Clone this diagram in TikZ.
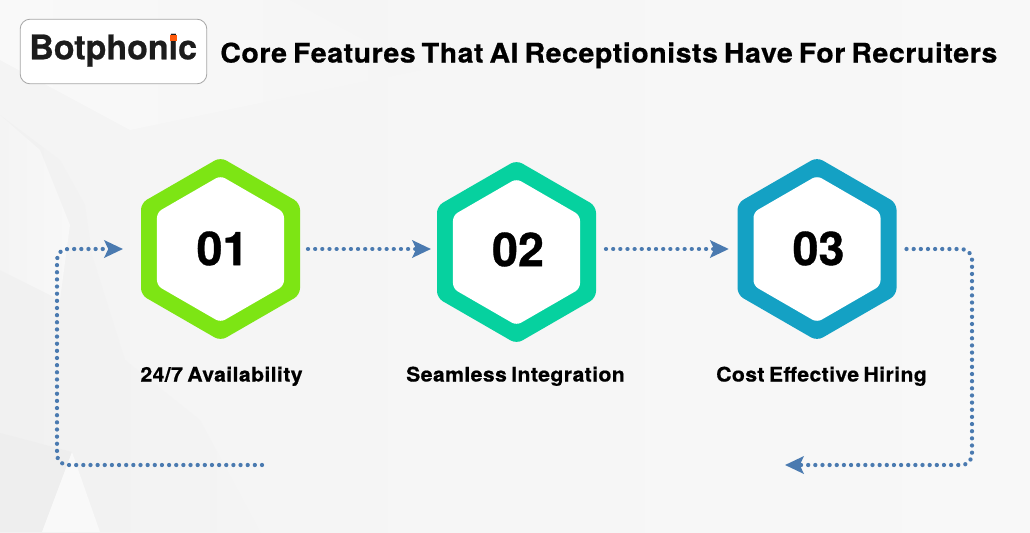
\documentclass[tikz,border=0pt]{standalone}
\usepackage{fontspec}
\setmainfont{TeX Gyre Heros}
\newfontfamily\headfont[LetterSpace=2,WordSpace=0.7,FakeStretch=1.06,BoldFeatures={FakeBold=0.6}]{TeX Gyre Heros}
\newfontfamily\heavyfont[BoldFeatures={FakeBold=0.7}]{TeX Gyre Heros}
\usetikzlibrary{shapes.geometric,arrows.meta}
\definecolor{flowblue}{HTML}{4A7AB0}
\definecolor{hexgreen}{HTML}{7DE514}
\definecolor{hexteal}{HTML}{06D19F}
\definecolor{hexblue}{HTML}{14A1C4}
\definecolor{logoink}{HTML}{1C1C1C}
\definecolor{logodot}{HTML}{FF5A0A}
\definecolor{gEC}{HTML}{EEEEEE}
\definecolor{gF0}{HTML}{F1F1F1}
\definecolor{gF4}{HTML}{F4F4F4}
\definecolor{gF5}{HTML}{F5F5F5}
\definecolor{gF8}{HTML}{F8F8F8}
\definecolor{gFA}{HTML}{F9F9F9}
\tikzset{
  hexouter/.style={regular polygon,regular polygon sides=6,shape border rotate=30,minimum size=137.7pt,inner sep=0pt,outer sep=0pt,rounded corners=5pt,fill=#1},
  hexinner/.style={regular polygon,regular polygon sides=6,shape border rotate=30,minimum size=110pt,inner sep=0pt,outer sep=0pt,rounded corners=4pt,fill=white},
  hexnum/.style={inner sep=0pt,text=black,font=\fontsize{35}{35}\heavyfont\bfseries},
  flow/.style={draw=flowblue,line width=3.2pt,line cap=round,dash pattern=on 0.01pt off 5.35pt,rounded corners=8pt},
  flowtip/.style={-{Stealth[length=14pt,width=13pt,inset=3pt,color=flowblue]}},
  caption/.style={anchor=base,text=black,font=\fontsize{15}{16}\headfont\bfseries},
}
\begin{document}
\begin{tikzpicture}[x=0.75pt,y=-0.75pt]
\useasboundingbox (0,0) rectangle (1030,532);
\shade[left color=gF4,right color=gF8] (0,0) rectangle (1030,532);
% soft background facets
\shade[left color=gFA,right color=gF5] (0,0) -- (290,0) -- (420,70) -- (130,130) -- (0,60) -- cycle;
\shade[left color=gF0,right color=gF4] (0,115) -- (60,160) -- (85,205) -- (92,255) -- (125,360) -- (200,420) -- (260,532) -- (0,532) -- cycle;
\shade[left color=gF4,right color=gF8] (0,115) -- (40,150) -- (70,225) -- (60,300) -- (0,270) -- cycle;
\fill[gEC] (0,433) -- (72,452) -- (42,532) -- (0,532) -- cycle;
\fill[gFA] (72,452) -- (100,532) -- (42,532) -- cycle;
% logo
\node[draw=black!35,fill=white,rounded corners=7.5pt,minimum width=140pt,minimum height=48.5pt,inner sep=0pt,line width=.6pt] (logo) at (113.5,51.5) {};
\node[anchor=base west,inner sep=0pt,text=logoink,font=\fontsize{25.5}{26}\heavyfont\bfseries] (brand) at (29,59.3) {Botphonic};
\fill[logodot] (169.5,34.5) rectangle (176.5,40.5);
% title
\node[anchor=base west,inner sep=0pt,text=black,font=\fontsize{20.2}{22}\headfont\bfseries] (title) at (220,62.5) {Core Features That AI Receptionists Have For Recruiters};
% hexagons
\node[hexouter=hexgreen] (h1) at (220.5,249) {};
\node[hexinner] (n1) at (h1) {};
\node[hexnum] (t1) at (222.5,248.5) {01};
\node[hexouter=hexteal] (h2) at (516.5,252) {};
\node[hexinner] (n2) at (h2) {};
\node[hexnum] (t2) at (518,249.5) {02};
\node[hexouter=hexblue] (h3) at (817,249) {};
\node[hexinner] (n3) at (h3) {};
\node[hexnum] (t3) at (818.5,248.5) {03};
% captions
\node[caption] (c1) at (221.5,381.5) {24/7 Availability};
\node[caption] (c2) at (515.5,381.5) {Seamless Integration};
\node[caption] (c3) at (821.5,381.5) {Cost Effective Hiring};
% connectors
\coordinate (loopstart) at (262,465);
\coordinate (loopbl) at (57,465);
\coordinate (looptl) at (57,249);
\coordinate (backtr) at (972,249);
\coordinate (backbr) at (972,465);
\coordinate (backend) at (785,465);
\draw[flow,flowtip,shorten <=6pt,shorten >=4.5pt] (h1.east) -- (h1.east -| h2.west);
\draw[flow,flowtip,shorten <=7.5pt,shorten >=6.5pt] (h2.east |- h3.east) -- (h3.west);
\draw[flow,flowtip,shorten <=7.5pt] (h3.east) -- (backtr) -- (backbr) -- (backend);
\draw[flow,flowtip,shorten >=13.5pt] (loopstart) -- (loopbl) -- (looptl) -- (h1.west);
\end{tikzpicture}
\end{document}
